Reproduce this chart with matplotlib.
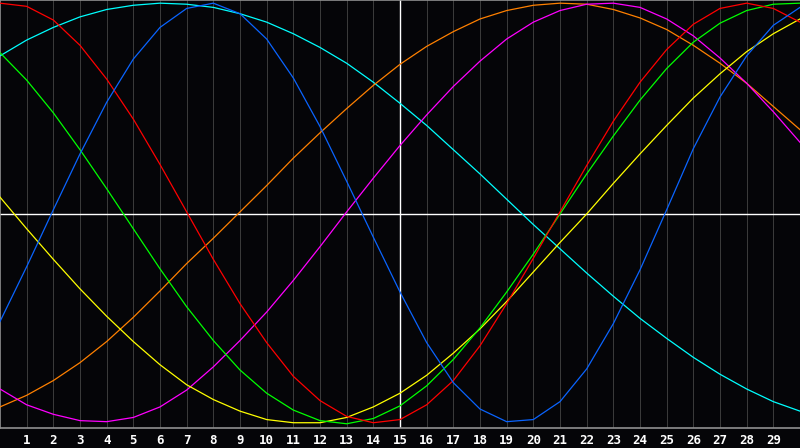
import matplotlib
matplotlib.use("Agg")
import matplotlib.pyplot as plt

# sample positions 0..30 (-1..1)
xs = list(range(31))

red = [1.0, 0.985, 0.92, 0.8, 0.64, 0.45, 0.235, 0.01, -0.215, -0.425,
       -0.61, -0.77, -0.885, -0.96, -0.99, -0.975, -0.905, -0.79, -0.625, -0.425,
       -0.21, 0.01, 0.23, 0.44, 0.625, 0.78, 0.9, 0.975, 1.0, 0.975, 0.91]
green = [0.765, 0.635, 0.48, 0.305, 0.12, -0.07, -0.26, -0.44, -0.6, -0.74,
         -0.85, -0.93, -0.98, -0.995, -0.97, -0.91, -0.815, -0.69, -0.54, -0.37,
         -0.19, 0.0, 0.19, 0.37, 0.54, 0.69, 0.815, 0.905, 0.965, 0.995, 1.0]
yellow = [0.08, -0.07, -0.215, -0.355, -0.485, -0.605, -0.715, -0.81, -0.88, -0.935,
          -0.975, -0.99, -0.99, -0.965, -0.915, -0.85, -0.765, -0.66, -0.545, -0.415,
          -0.275, -0.135, 0.0, 0.145, 0.285, 0.42, 0.55, 0.665, 0.77, 0.855, 0.925]
cyan = [0.75, 0.825, 0.885, 0.935, 0.97, 0.99, 1.0, 0.995, 0.98, 0.95,
        0.91, 0.855, 0.79, 0.715, 0.625, 0.525, 0.42, 0.305, 0.19, 0.07,
        -0.05, -0.165, -0.28, -0.39, -0.495, -0.59, -0.68, -0.76, -0.83, -0.89, -0.935]
blue = [-0.51, -0.25, 0.02, 0.285, 0.53, 0.735, 0.885, 0.975, 1.0, 0.95,
        0.83, 0.645, 0.415, 0.155, -0.11, -0.37, -0.61, -0.8, -0.925, -0.985,
        -0.975, -0.89, -0.735, -0.52, -0.265, 0.02, 0.31, 0.555, 0.75, 0.895, 0.98]
orange = [-0.915, -0.86, -0.79, -0.705, -0.605, -0.49, -0.365, -0.235, -0.115, 0.01,
          0.135, 0.265, 0.385, 0.5, 0.61, 0.71, 0.795, 0.865, 0.925, 0.965,
          0.99, 1.0, 0.995, 0.97, 0.93, 0.875, 0.8, 0.715, 0.62, 0.51, 0.4]
magenta = [-0.83, -0.905, -0.95, -0.98, -0.985, -0.965, -0.915, -0.835, -0.725, -0.6,
           -0.465, -0.315, -0.155, 0.01, 0.17, 0.325, 0.47, 0.605, 0.725, 0.83,
           0.91, 0.965, 0.995, 1.0, 0.98, 0.925, 0.845, 0.74, 0.62, 0.485, 0.34]

tick_labels = [str(i) for i in range(1, 30)]

series = [
    (cyan, "#00ffff"),
    (orange, "#ff8000"),
    (magenta, "#ff00ff"),
    (yellow, "#ffff00"),
    (green, "#00ff00"),
    (red, "#ff0000"),
    (blue, "#0a64ff"),
]

bg = "#050508"
fig = plt.figure(figsize=(8, 4.48), dpi=100, facecolor=bg)
ax = fig.add_axes([0, 20 / 448, 1, 428 / 448])
ax.set_facecolor(bg)

# thin gray line at every integer
for i in range(1, 30):
    ax.axvline(i, color="#3a3a3a", lw=0.72, zorder=1)

# white crosshair
ax.axvline(15, color="white", lw=1.0, zorder=2)
ax.axhline(0, color="white", lw=1.0, zorder=2)

for vals, col in series:
    ax.plot(xs, vals, color=col, lw=0.9, zorder=3)

ax.set_xlim(0, 30)
ax.set_ylim(-1.015, 1.015)
ax.set_xticks(range(1, 30))
ax.set_xticklabels(tick_labels, color="white", fontsize=9, fontweight="bold",
                   family="DejaVu Sans Mono")
ax.tick_params(axis="x", length=0, pad=4)
ax.set_yticks([])
for side in ["left", "top", "bottom"]:
    ax.spines[side].set_color("#909090")
    ax.spines[side].set_linewidth(1.2)
ax.spines["right"].set_visible(False)

fig.savefig("out.png", dpi=100, facecolor=bg)
